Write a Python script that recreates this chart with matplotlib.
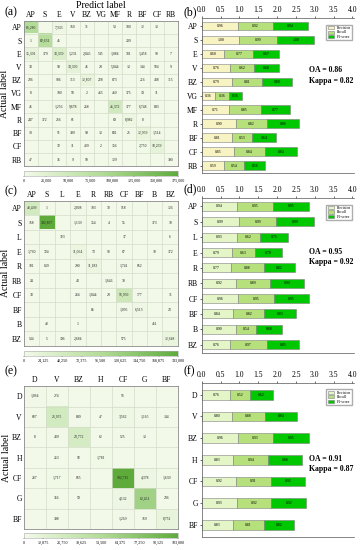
import numpy as np
import matplotlib.pyplot as plt
from matplotlib.colors import LinearSegmentedColormap

plt.rcParams['font.family'] = ['Liberation Serif', 'DejaVu Serif']

# ---- panel (a)/(b) ----
labels_a = ['AP', 'S', 'E', 'V', 'BZ', 'VG', 'MF', 'R', 'BF', 'CF', 'RB']
cm_a = [
    [86280, 0, 7333, 160, 71, 0, 53, 700, 12, 13, 0],
    [1, 82631, 45, 0, 0, 0, 0, 209, 0, 0, 0],
    [15391, 179, 33359, 1231, 2045, 545, 1084, 701, 1458, 90, 7],
    [33, 0, 99, 19390, 45, 29, 5044, 13, 144, 584, 9],
    [236, 0, 906, 313, 12807, 228, 673, 0, 216, 438, 315],
    [8, 0, 100, 58, 2, 465, 460, 175, 19, 11, 0],
    [45, 0, 1256, 9678, 268, 0, 46372, 177, 6748, 843, 0],
    [247, 372, 256, 61, 0, 0, 69, 8982, 8, 0, 0],
    [30, 0, 51, 399, 99, 13, 831, 25, 12959, 1514, 0],
    [0, 0, 32, 11, 409, 2, 156, 0, 2750, 18259, 0],
    [47, 0, 35, 9, 50, 0, 129, 0, 0, 0, 390],
]
cbar_a = [0, 25000, 50000, 75000, 100000, 125000, 150000, 175000]
prec_a = [0.96, 1.00, 0.60, 0.76, 0.79, 0.36, 0.71, 0.90, 0.81, 0.85, 0.59]
rec_a = [0.92, 0.99, 0.77, 0.62, 0.81, 0.36, 0.85, 0.82, 0.53, 0.84, 0.54]
f1_a = [0.94, 1.00, 0.67, 0.68, 0.80, 0.36, 0.77, 0.86, 0.64, 0.84, 0.56]
oa_a, kappa_a = 0.86, 0.82

# ---- panel (c)/(d) ----
labels_c = ['AP', 'S', 'L', 'E', 'R', 'RB', 'CF', 'BF', 'B', 'BZ']
cm_c = [
    [48499, 1, 0, 2008, 103, 78, 518, 0, 0, 126],
    [168, 192807, 0, 1139, 154, 4, 55, 0, 373, 10],
    [0, 0, 323, 0, 0, 0, 17, 0, 0, 6],
    [1760, 724, 0, 11064, 73, 98, 67, 0, 10, 172],
    [101, 639, 0, 290, 11183, 0, 1741, 662, 0, 0],
    [24, 0, 0, 43, 0, 1646, 70, 0, 0, 0],
    [33, 0, 0, 284, 1044, 29, 56950, 777, 0, 71],
    [0, 0, 0, 0, 85, 0, 1095, 6513, 0, 23],
    [0, 48, 0, 1, 0, 0, 0, 0, 451, 0],
    [534, 5, 196, 2684, 0, 0, 575, 0, 0, 12648],
]
cbar_c = [0, 24125, 48250, 72375, 96500, 120625, 144750, 168875, 193000]
prec_c = [0.94, 0.99, 0.93, 0.79, 0.77, 0.92, 0.96, 0.84, 0.90, 0.76]
rec_c = [0.95, 0.99, 0.62, 0.63, 0.88, 0.89, 0.95, 0.82, 0.54, 0.97]
f1_c = [0.95, 0.99, 0.75, 0.70, 0.82, 0.90, 0.95, 0.83, 0.68, 0.85]
oa_c, kappa_c = 0.95, 0.92

# ---- panel (e)/(f) ----
labels_e = ['D', 'V', 'BZ', 'H', 'CF', 'G', 'BF']
cm_e = [
    [1064, 274, 0, 0, 56, 0, 0],
    [687, 25975, 849, 47, 3562, 1165, 144],
    [8, 439, 23772, 62, 525, 13, 0],
    [0, 263, 92, 1781, 0, 0, 0],
    [287, 1717, 665, 0, 102715, 4378, 1639],
    [0, 356, 59, 0, 4132, 62451, 236],
    [0, 398, 0, 0, 1269, 169, 8751],
]
cbar_e = [0, 12875, 25750, 38625, 51500, 64375, 77250, 90125, 103000]
prec_e = [0.76, 0.80, 0.96, 0.83, 0.92, 0.93, 0.83]
rec_e = [0.52, 0.88, 0.93, 0.94, 0.91, 0.92, 0.81]
f1_e = [0.62, 0.84, 0.95, 0.88, 0.92, 0.92, 0.82]
oa_e, kappa_e = 0.91, 0.87

cmap = LinearSegmentedColormap.from_list('gr', ['#f3f9e9', '#b3dc98', '#5eab3c'])


def draw_matrix(fig, rect, crect, labels, cm, cticks, top_label=False):
    ax = fig.add_axes(rect)
    m = np.array(cm, dtype=float)
    n = len(labels)
    im = ax.imshow(m, cmap=cmap, vmin=0, vmax=cticks[-1], aspect='auto',
                   extent=(-0.5, n - 0.5, n - 0.5, -0.5))
    for i in range(n):
        for j in range(n):
            if m[i, j] > 0:
                ax.text(j, i, f'{int(m[i, j]):,}', ha='center', va='center',
                        fontsize=2.7, color='#222222')
    for k in range(1, n):
        ax.axhline(k - 0.5, color='#d3dcc8', lw=0.5)
        ax.axvline(k - 0.5, color='#d3dcc8', lw=0.5)
    ax.set_xticks(range(n))
    ax.set_xticklabels(labels, fontsize=5.5)
    ax.set_yticks(range(n))
    ax.set_yticklabels(labels, fontsize=5.5)
    ax.xaxis.tick_top()
    ax.tick_params(length=0, pad=1.5)
    for s in ax.spines.values():
        s.set_color('#8a8a8a')
        s.set_linewidth(0.6)
    ax.set_ylabel('Actual label', fontsize=7, labelpad=1)
    if top_label:
        ax.set_xlabel('Predict label', fontsize=7, labelpad=2)
        ax.xaxis.set_label_position('top')
    cax = fig.add_axes(crect)
    cb = fig.colorbar(im, cax=cax, orientation='horizontal', ticks=cticks)
    cb.ax.set_xticklabels([f'{t:,}' for t in cticks])
    cb.ax.tick_params(labelsize=3, length=1, width=0.3, pad=1)
    cb.outline.set_edgecolor('#aaaaaa')
    cb.outline.set_linewidth(0.4)
    return ax


def draw_bars(fig, rect, labels, prec, rec, f1, oa, kappa, c_prec, height, oa_y):
    ax = fig.add_axes(rect)
    n = len(labels)
    y = np.arange(n)
    p = np.array(prec)
    r = np.array(rec)
    f = np.array(f1)
    kw = dict(height=height, edgecolor='#808080', linewidth=0.4)
    ax.barh(y, p, color=c_prec, label='Precision', **kw)
    ax.barh(y, r, left=p, color='#b6e07c', label='Recall', **kw)
    ax.barh(y, f, left=p + r, color='#00c800', label='F1-score', **kw)
    for i in range(n):
        ax.text(p[i] / 2, i, f'{p[i]:.2f}', ha='center', va='center', fontsize=2.8)
        ax.text(p[i] + r[i] / 2, i, f'{r[i]:.2f}', ha='center', va='center', fontsize=2.8)
        ax.text(p[i] + r[i] + f[i] / 2, i, f'{f[i]:.2f}', ha='center', va='center', fontsize=2.8)
    ax.set_xlim(0, 4.05)
    ax.set_ylim(n - 0.45, -0.55)
    ax.set_xticks(np.arange(0, 4.01, 0.5))
    ax.set_xticklabels([f'{t:.1f}' for t in np.arange(0, 4.01, 0.5)])
    ax.xaxis.tick_top()
    ax.set_yticks(y)
    ax.set_yticklabels(labels)
    ax.tick_params(labelsize=5.5, length=1.5, width=0.4, pad=1.5)
    ax.spines['right'].set_visible(False)
    for s in ['left', 'top', 'bottom']:
        ax.spines[s].set_linewidth(0.5)
        ax.spines[s].set_color('#555555')
    ax.legend(loc='upper right', fontsize=2.8, handlelength=1.6, handleheight=0.9,
              borderpad=0.3, labelspacing=0.15, frameon=True, fancybox=False,
              edgecolor='#999999', bbox_to_anchor=(1.0, 0.97))
    ax.text(0.70, oa_y, f'OA = {oa:.2f}', transform=ax.transAxes, fontsize=5.6,
            fontweight='bold')
    ax.text(0.70, oa_y - 0.065, f'Kappa = {kappa:.2f}', transform=ax.transAxes,
            fontsize=5.6, fontweight='bold')
    return ax


fig = plt.figure(figsize=(3.63, 5.5), dpi=100)

draw_matrix(fig, [0.066, 0.698, 0.424, 0.264], [0.066, 0.68, 0.424, 0.009],
            labels_a, cm_a, cbar_a, top_label=True)
draw_bars(fig, [0.556, 0.685, 0.42, 0.282], labels_a, prec_a, rec_a, f1_a,
          oa_a, kappa_a, '#f8f3c2', 0.6, 0.65)

draw_matrix(fig, [0.066, 0.371, 0.424, 0.264], [0.066, 0.353, 0.424, 0.009],
            labels_c, cm_c, cbar_c)
draw_bars(fig, [0.556, 0.358, 0.42, 0.282], labels_c, prec_c, rec_c, f1_c,
          oa_c, kappa_c, '#e4f5c8', 0.58, 0.64)

draw_matrix(fig, [0.066, 0.038, 0.424, 0.26], [0.066, 0.022, 0.424, 0.009],
            labels_e, cm_e, cbar_e)
draw_bars(fig, [0.556, 0.024, 0.42, 0.28], labels_e, prec_e, rec_e, f1_e,
          oa_e, kappa_e, '#e4f5c8', 0.45, 0.49)

for lab, x, y in [('(a)', 0.012, 0.978), ('(b)', 0.505, 0.978),
                  ('(c)', 0.012, 0.652), ('(d)', 0.505, 0.655),
                  ('(e)', 0.012, 0.325), ('(f)', 0.505, 0.325)]:
    fig.text(x, y, lab, fontsize=8.5, va='center')

fig.savefig('out.png', dpi=100)
